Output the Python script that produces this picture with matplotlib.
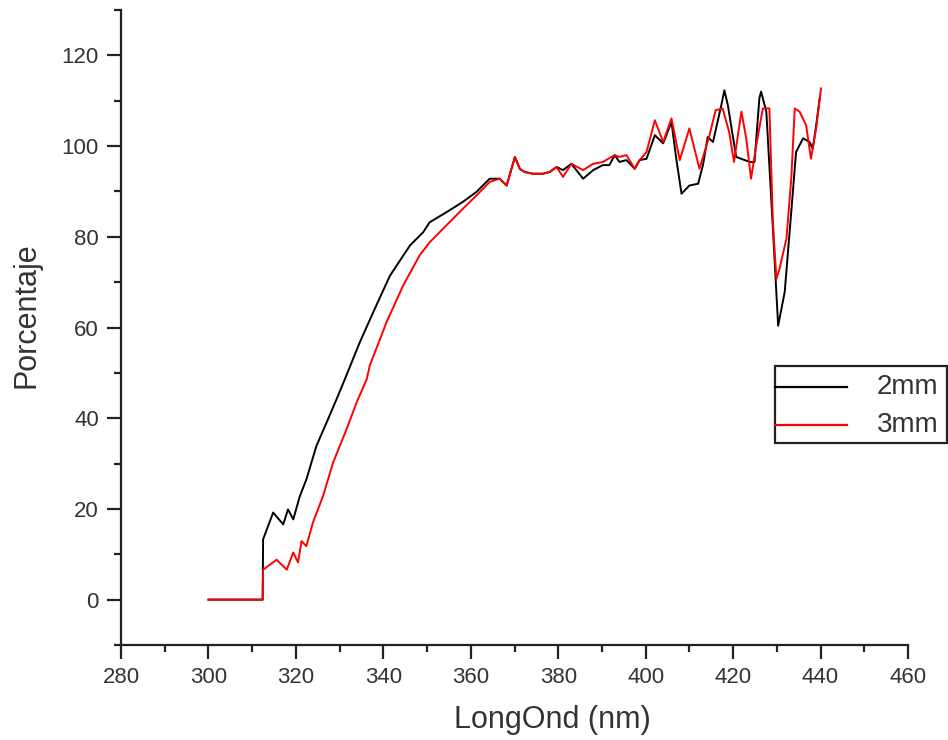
import matplotlib
matplotlib.use("Agg")
import matplotlib.pyplot as plt
from matplotlib.ticker import MultipleLocator
from matplotlib.patches import Rectangle
from matplotlib.lines import Line2D

wl_2mm = [300, 312.4, 312.5, 314.8, 317.1, 318.2, 319.4, 320.9, 322.4, 324.7, 327.0, 329.3,
          331.2, 334.6, 337.7, 341.5, 346.1, 349.1, 350.6, 354.4, 358.2, 361.3, 364.3,
          366.6, 368.2, 370.1, 371.2, 372.3, 374.2, 376.5, 378.1, 379.6, 381.1, 383.0,
          385.7, 388.0, 390.2, 391.7, 392.9, 394.0, 395.6, 397.5, 398.6, 400.2, 402.1,
          404.0, 405.9, 407.0, 408.2, 410.0, 412.0, 413.1, 414.2, 415.4, 417.3, 418.0,
          418.8, 420.7, 423.8, 424.9, 426.0, 426.4, 427.6, 429.1, 430.3, 431.8, 433.3,
          434.4, 436.0, 437.5, 438.2, 439.0, 439.8]
pct_2mm = [0, 0, 13.3, 19.2, 16.6, 19.9, 17.7, 22.8, 26.5, 33.9, 39.0, 44.2,
           48.6, 56.7, 63.4, 71.4, 78.1, 81.0, 83.2, 85.4, 87.7, 89.9, 92.8,
           92.8, 91.3, 97.6, 95.0, 94.3, 93.9, 93.9, 94.3, 95.4, 94.7, 96.1,
           92.8, 94.7, 95.8, 95.8, 98.0, 96.5, 96.9, 95.0, 96.9, 97.2, 102.4,
           100.6, 105.3, 97.2, 89.5, 91.3, 91.7, 95.8, 102.0, 100.9, 109.0, 112.3,
           109.0, 97.6, 96.5, 96.5, 110.5, 112.0, 107.6, 81.8, 60.4, 67.8, 85.5,
           98.7, 101.7, 100.9, 99.4, 104.6, 110.5]

wl_3mm = [300, 312.4, 312.5, 315.6, 317.9, 319.4, 320.5, 321.3, 322.4, 323.9, 326.2, 328.5,
          331.6, 333.9, 336.2, 336.9, 340.7, 344.5, 348.3, 350.6, 354.4, 358.2, 361.3,
          364.3, 366.6, 368.2, 370.1, 371.2, 372.3, 374.2, 376.5, 378.1, 379.6, 381.1,
          383.0, 385.7, 388.0, 390.2, 392.9, 394.0, 395.6, 397.5, 398.6, 400.2, 402.1,
          404.0, 405.9, 407.8, 410.0, 412.3, 414.5, 416.0, 417.6, 419.1, 420.2, 421.9,
          423.0, 424.1, 425.3, 426.8, 428.3, 429.1, 429.9, 430.6, 432.2, 433.3, 434.1,
          435.2, 436.7, 437.8, 439.0, 440.1]
pct_3mm = [0, 0, 6.6, 8.8, 6.6, 10.4, 8.2, 12.9, 11.8, 17.0, 22.8, 30.2,
           37.6, 43.5, 48.6, 51.6, 61.1, 69.2, 75.9, 78.8, 82.5, 86.2, 89.1,
           92.1, 92.8, 91.3, 97.6, 95.0, 94.3, 93.9, 93.9, 94.3, 95.4, 93.2,
           96.1, 94.7, 96.1, 96.5, 98.0, 97.6, 98.0, 95.0, 96.9, 98.7, 105.7,
           100.9, 106.1, 96.9, 103.9, 95.0, 102.0, 107.9, 108.3, 103.1, 96.5, 107.6,
           101.7, 92.8, 100.2, 108.3, 108.3, 83.2, 70.7, 72.9, 79.6, 92.8, 108.3,
           107.6, 104.6, 97.2, 103.9, 112.7]

series_labels = ["2mm", "3mm"]
series_colors = ["black", "#ff0000"]
x_label = "LongOnd (nm)"
y_label = "Porcentaje"

plt.rcParams['font.family'] = ['Liberation Sans', 'DejaVu Sans']

W, H = 948, 740
fig = plt.figure(figsize=(W / 100, H / 100), dpi=100)
ax = fig.add_axes([121 / W, 95 / H, (908 - 121) / W, (645 - 10) / H])

ax.plot(wl_2mm, pct_2mm, color=series_colors[0], lw=1.4)
ax.plot(wl_3mm, pct_3mm, color=series_colors[1], lw=1.4)

ax.set_xlim(280, 460)
ax.set_ylim(-10, 130)
ax.xaxis.set_major_locator(MultipleLocator(20))
ax.xaxis.set_minor_locator(MultipleLocator(10))
ax.yaxis.set_major_locator(MultipleLocator(20))
ax.yaxis.set_minor_locator(MultipleLocator(10))

for s in ['top', 'right']:
    ax.spines[s].set_visible(False)
for s in ['left', 'bottom']:
    ax.spines[s].set_linewidth(1.6)
    ax.spines[s].set_color('#222222')

ax.tick_params(which='major', direction='out', length=10, width=1.6, color='#222222',
               labelsize=16, labelcolor='#333333', pad=6)
ax.tick_params(which='minor', direction='out', length=5, width=1.6, color='#222222')

fig.text(552 / W, 1 - 720 / H, x_label, fontsize=22, color='#333333',
         ha='center', va='center')
fig.text(27 / W, 1 - 315 / H, y_label, fontsize=22, color='#333333',
         ha='center', va='center', rotation=90)

# legend box (Origin style, running off the right edge)
fig.add_artist(Rectangle((775 / W, 1 - 443 / H), (947 - 775) / W, (443 - 366) / H,
                         transform=fig.transFigure, fill=False, edgecolor='#222222',
                         linewidth=1.6))
for i, (lab, col) in enumerate(zip(series_labels, series_colors)):
    yy = 1 - (387 + 38 * i) / H
    fig.add_artist(Line2D([775 / W, 847 / W], [yy, yy], transform=fig.transFigure,
                          color=col, lw=1.6))
    fig.text(877 / W, yy, lab, fontsize=20, color='#333333', ha='left', va='center')

fig.savefig('out.png', dpi=100)
